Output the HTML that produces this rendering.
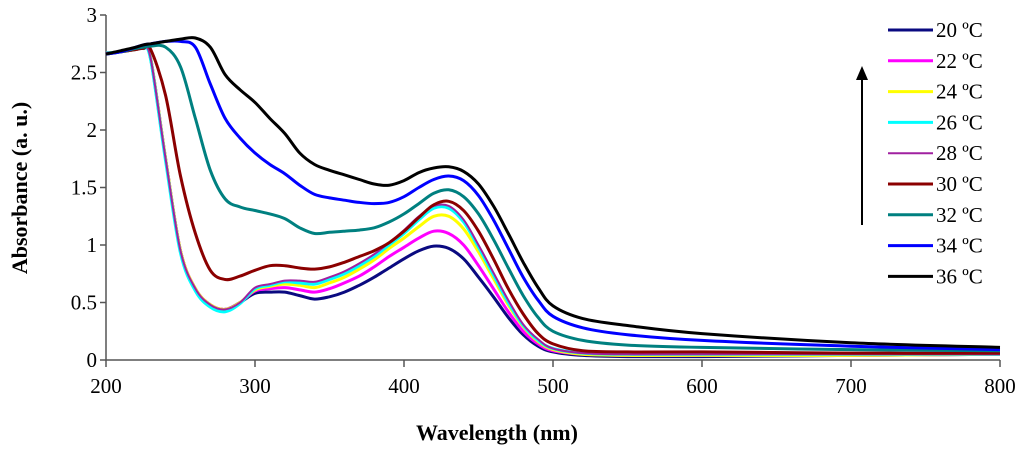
<!DOCTYPE html>
<html><head><meta charset="utf-8"><style>
body{margin:0;background:#fff;}
svg text{font-family:"Liberation Serif",serif;}
</style></head><body>
<svg id="chart" width="1024" height="452" xmlns="http://www.w3.org/2000/svg"></svg>
<script>
const wavelengths=[200,210,220,225,230,240,250,260,270,280,290,300,310,320,330,340,350,360,370,380,390,400,410,420,430,440,450,460,470,480,490,500,520,550,600,700,800];
const seriesNames=["20 ºC","22 ºC","24 ºC","26 ºC","28 ºC","30 ºC","32 ºC","34 ºC","36 ºC"];
const seriesColors=["#0a0a80","#ff00ff","#ffff00","#00ffff","#a020a0","#8b0000","#008080","#0000ff","#000000"];
const early=[2.67,2.68,2.70,2.71,2.62,1.75,0.95,0.62,0.48,0.44,0.50];
const s20=early.concat([0.58,0.59,0.59,0.56,0.53,0.55,0.59,0.65,0.72,0.80,0.88,0.95,0.99,0.97,0.88,0.72,0.55,0.37,0.22,0.12,0.07,0.04,0.03,0.03,0.04,0.05]);
const s22=early.concat([0.60,0.62,0.63,0.61,0.59,0.62,0.67,0.73,0.81,0.90,0.98,1.06,1.12,1.10,1.00,0.82,0.62,0.42,0.25,0.14,0.08,0.05,0.04,0.04,0.04,0.05]);
const s24=early.concat([0.61,0.64,0.66,0.65,0.63,0.67,0.72,0.79,0.87,0.97,1.06,1.16,1.25,1.25,1.14,0.94,0.71,0.48,0.29,0.16,0.09,0.05,0.04,0.04,0.04,0.05]);
const s26=[2.67,2.68,2.70,2.71,2.61,1.73,0.93,0.60,0.46,0.42,0.49,0.62,0.65,0.68,0.67,0.66,0.70,0.75,0.82,0.90,1.00,1.10,1.22,1.32,1.32,1.20,0.98,0.74,0.50,0.30,0.17,0.10,0.06,0.05,0.05,0.05,0.05];
const s28=early.concat([0.63,0.66,0.69,0.69,0.68,0.72,0.77,0.84,0.92,1.02,1.13,1.25,1.34,1.34,1.22,1.00,0.76,0.52,0.31,0.18,0.10,0.06,0.05,0.05,0.05,0.05]);
const s30=[2.66,2.68,2.70,2.71,2.70,2.30,1.60,1.10,0.78,0.70,0.73,0.78,0.82,0.82,0.80,0.79,0.81,0.85,0.90,0.95,1.02,1.12,1.24,1.35,1.38,1.30,1.12,0.88,0.62,0.40,0.23,0.14,0.08,0.07,0.07,0.06,0.06];
const s32=[2.66,2.68,2.71,2.72,2.73,2.72,2.55,2.10,1.65,1.40,1.33,1.30,1.27,1.23,1.15,1.10,1.11,1.12,1.13,1.15,1.20,1.27,1.36,1.45,1.48,1.42,1.27,1.05,0.80,0.56,0.37,0.25,0.17,0.13,0.11,0.09,0.08];
const s34=[2.66,2.68,2.72,2.74,2.75,2.77,2.77,2.72,2.40,2.10,1.93,1.80,1.70,1.62,1.52,1.44,1.41,1.39,1.37,1.36,1.37,1.42,1.50,1.57,1.60,1.56,1.43,1.22,0.97,0.72,0.52,0.38,0.28,0.22,0.17,0.12,0.09];
const s36=[2.66,2.69,2.72,2.74,2.75,2.77,2.79,2.80,2.72,2.48,2.35,2.24,2.10,1.97,1.80,1.70,1.65,1.61,1.57,1.53,1.52,1.56,1.63,1.67,1.68,1.64,1.53,1.34,1.10,0.85,0.63,0.47,0.36,0.30,0.23,0.15,0.11];
const seriesValues=[s20,s22,s24,s26,s28,s30,s32,s34,s36];
const xTicks=[200,300,400,500,600,700,800];
const yTicks=[0,0.5,1,1.5,2,2.5,3];
const yTickLabels=["0","0.5","1","1.5","2","2.5","3"];

const NS="http://www.w3.org/2000/svg";
const svg=document.getElementById('chart');
const X0=106,X1=1000,Y0=360,Y1=15;
function xs(w){return X0+(w-200)/600*(X1-X0);}
function ys(a){return Y0-a/3*(Y0-Y1);}
function mk(tag,attrs,parent){const e=document.createElementNS(NS,tag);for(const k in attrs)e.setAttribute(k,attrs[k]);(parent||svg).appendChild(e);return e;}

const ax=mk('path',{d:`M${X0},${Y1} V${Y0} H${X1}`,stroke:'#555',fill:'none','stroke-width':1.5});


yTicks.forEach((v,i)=>{
  const y=ys(v);
  const t=mk('line',{x1:X0-6,x2:X0,y1:y,y2:y,stroke:'#555','stroke-width':1.5});
  
  
  const l=mk('text',{x:X0-9,y:y+7,'text-anchor':'end','font-size':21});
  l.textContent=yTickLabels[i];
  
  
});
xTicks.forEach(v=>{
  const x=xs(v);
  const t=mk('line',{x1:x,x2:x,y1:Y0,y2:Y0+7,stroke:'#555','stroke-width':1.5});
  
  
  const l=mk('text',{x:x,y:Y0+33,'text-anchor':'middle','font-size':21});
  l.textContent=String(v);
  
  
});
const xt=mk('text',{x:497,y:440,'text-anchor':'middle','font-size':22,'font-weight':'bold'});
xt.textContent='Wavelength (nm)';


const yt=mk('text',{x:0,y:0,'text-anchor':'middle','font-size':22,'font-weight':'bold',transform:'translate(27,188) rotate(-90)'});
yt.textContent='Absorbance (a. u.)';



function smooth(pts){
  let d=`M${pts[0][0]},${pts[0][1]}`;
  for(let i=0;i<pts.length-1;i++){
    const p0=pts[Math.max(0,i-1)],p1=pts[i],p2=pts[i+1],p3=pts[Math.min(pts.length-1,i+2)];
    const c1x=p1[0]+(p2[0]-p0[0])/6,c1y=p1[1]+(p2[1]-p0[1])/6;
    const c2x=p2[0]-(p3[0]-p1[0])/6,c2y=p2[1]-(p3[1]-p1[1])/6;
    d+=` C${c1x.toFixed(1)},${c1y.toFixed(1)} ${c2x.toFixed(1)},${c2y.toFixed(1)} ${p2[0].toFixed(1)},${p2[1].toFixed(1)}`;
  }
  return d;
}
seriesValues.forEach((vals,i)=>{
  const pts=wavelengths.map((w,j)=>[xs(w),ys(vals[j])]);
  const p=mk('path',{d:smooth(pts),fill:'none',stroke:seriesColors[i],'stroke-width':i===4?2:3});
  
  
});

seriesNames.forEach((n,i)=>{
  const y=30+i*30.8;
  const g=mk('g',{});
  
  
  mk('line',{x1:888,x2:933,y1:y,y2:y,stroke:seriesColors[i],'stroke-width':i===4?2:3},g);
  const t=mk('text',{x:936,y:y+7,'font-size':21},g);
  t.textContent=n;
});
const ar=mk('line',{x1:862,x2:862,y1:225,y2:78,stroke:'#000','stroke-width':2});


const ah=mk('polygon',{points:'856,80 868,80 862,66',fill:'#000'});


</script>
</body></html>
